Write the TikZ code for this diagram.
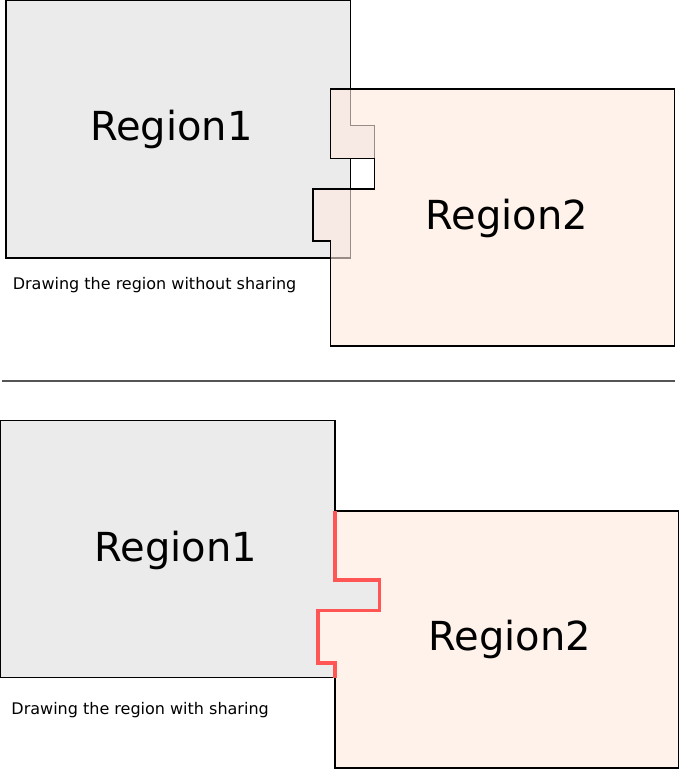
\documentclass[tikz,border=0pt]{standalone}
\usepackage{fontspec}
\setmainfont{DejaVu Sans}
\definecolor{rgray}{HTML}{EBEBEB}
\definecolor{rpeach}{RGB}{255,242,235}
\definecolor{rpeachbase}{RGB}{255,233,222}
\definecolor{sharedred}{HTML}{FF5555}
\definecolor{sepgray}{HTML}{555555}
\begin{document}
\begin{tikzpicture}[x=1pt,y=-1pt,
  border/.style={draw=black,line width=1.15pt},
  bigtxt/.style={font=\fontsize{40}{48}\selectfont, anchor=base, inner sep=0pt},
  captxt/.style={font=\fontsize{16}{20}\selectfont, anchor=base west, inner sep=0pt},
  shared/.style={draw=sharedred,line width=3.3pt,line join=miter},
  sepline/.style={draw=sepgray,line width=1.2pt}]
\useasboundingbox (0,0) rectangle (680,769);

% ---------- top: without sharing ----------
\filldraw[fill=rgray,border] (6,0.5) -- (350.5,0.5) -- (350.5,125.5) -- (374.5,125.5)
  -- (374.5,158.5) -- (350.5,158.5) -- (350.5,258) -- (6,258) -- cycle;
\draw[border, fill=rpeachbase, fill opacity=0.6] (330.5,89) -- (674.5,89) -- (674.5,346)
  -- (330.5,346) -- (330.5,241) -- (313,241) -- (313,189) -- (374.5,189)
  -- (374.5,158.5) -- (330.5,158.5) -- cycle;
\node[bigtxt] (r1top) at (171.5,140) {Region1};
\node[bigtxt] (r2top) at (506.8,229.3) {Region2};
\node[captxt] (captop) at (12.6,289.3) {Drawing the region without sharing};

% ---------- separator ----------
\coordinate (sepL) at (2,381);
\coordinate (sepR) at (675,381);
\draw[sepline] (sepL) -- (sepR);

% ---------- bottom: with sharing ----------
\fill[rgray] (0,420) -- (335,420) -- (335,580) -- (379.5,580) -- (379.5,610.5)
  -- (318,610.5) -- (318,663) -- (335,663) -- (335,677.5) -- (0,677.5) -- cycle;
\fill[rpeach] (335,511) -- (678.5,511) -- (678.5,768) -- (335,768) -- (335,677.5)
  -- (335,663) -- (318,663) -- (318,610.5) -- (379.5,610.5) -- (379.5,580) -- (335,580) -- cycle;
\draw[border] (335,511) -- (335,420.5) -- (0.5,420.5) -- (0.5,677.5) -- (335,677.5);
\draw[border] (335,677.5) -- (335,768) -- (678.5,768) -- (678.5,511) -- (335,511);
\draw[shared] (335,511) -- (335,580) -- (379.5,580) -- (379.5,610.5) -- (318,610.5)
  -- (318,663) -- (335,663) -- (335,677.5);
\node[bigtxt] (r1bot) at (175.8,561) {Region1};
\node[bigtxt] (r2bot) at (510,650.7) {Region2};
\node[captxt] (capbot) at (11.3,714) {Drawing the region with sharing};
\end{tikzpicture}
\end{document}
